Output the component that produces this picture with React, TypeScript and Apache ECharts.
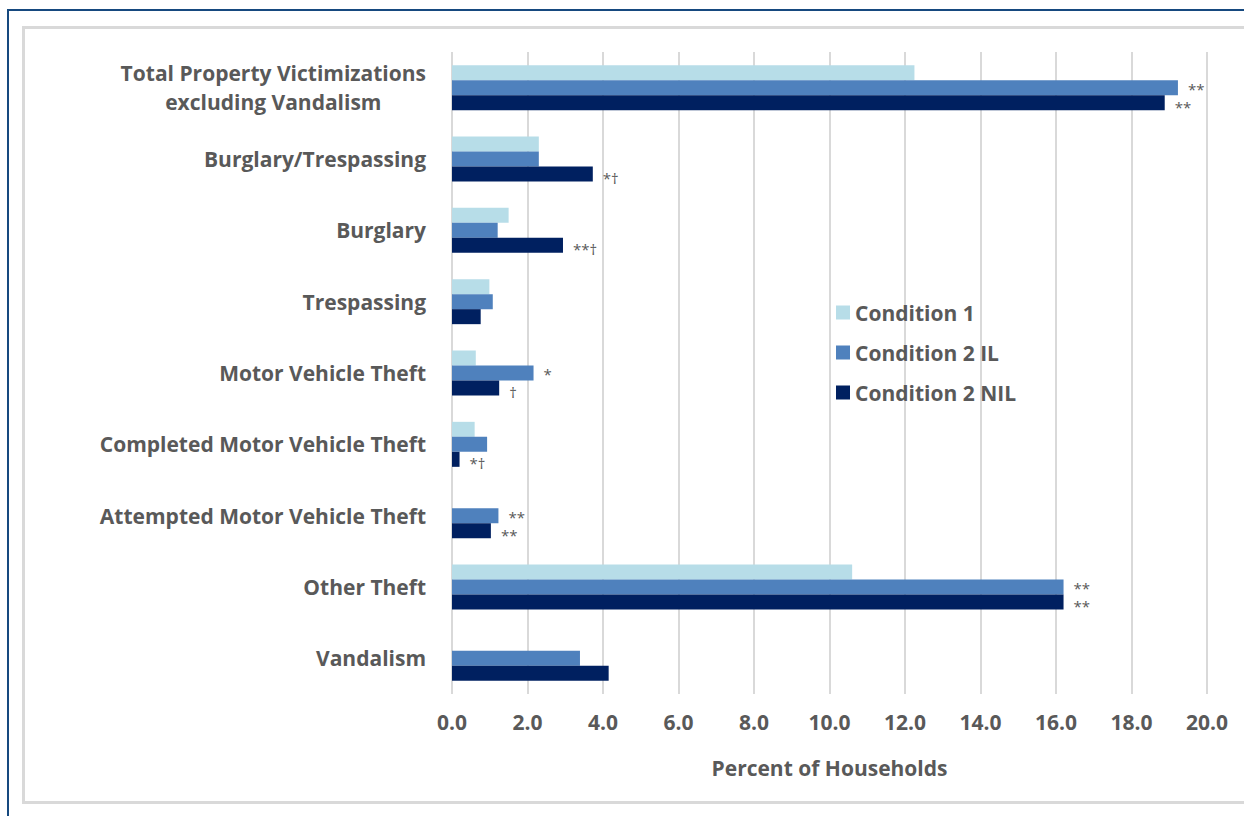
import React, { useEffect, useRef } from "react";
import * as echarts from "echarts";

const categories = [
  "Total Property Victimizations\nexcluding Vandalism",
  "Burglary/Trespassing",
  "Burglary",
  "Trespassing",
  "Motor Vehicle Theft",
  "Completed Motor Vehicle Theft",
  "Attempted Motor Vehicle Theft",
  "Other Theft",
  "Vandalism",
];

const seriesNames = ["Condition 1", "Condition 2 IL", "Condition 2 NIL"];

const condition1 = [12.25, 2.3, 1.5, 0.99, 0.63, 0.6, null, 10.6, null];
const condition2IL = [19.23, 2.3, 1.21, 1.08, 2.16, 0.93, 1.23, 16.2, 3.39];
const condition2NIL = [18.88, 3.73, 2.94, 0.76, 1.25, 0.2, 1.03, 16.2, 4.15];

const notes1 = ["", "", "", "", "", "", "", "", ""];
const notes2IL = ["**", "", "", "", "*", "", "**", "**", ""];
const notes2NIL = ["**", "*†", "**†", "", "†", "*†", "**", "**", ""];

const xTicks = { min: 0, max: 20, interval: 2 };

const colors = ["#b7dde8", "#4f81bd", "#002060"];
const labelOffsets = [
  [0, 0],
  [0, 1],
  [0, 4],
];
const textColor = "#595959";
const font = "'Open Sans', sans-serif";

export default function App() {
  const ref = useRef<HTMLDivElement>(null);

  useEffect(() => {
    if (!ref.current) return;
    const chart = echarts.init(ref.current, undefined, { renderer: "svg" });
    const datasets = [condition1, condition2IL, condition2NIL];
    const notes = [notes1, notes2IL, notes2NIL];

    chart.setOption({
      animation: false,
      backgroundColor: "#ffffff",
      textStyle: { fontFamily: font },
      graphic: [
        {
          type: "rect",
          shape: { x: 8, y: 10, width: 3000, height: 3000 },
          style: { fill: "none", stroke: "#16497f", lineWidth: 2 },
          silent: true,
        },
        {
          type: "rect",
          shape: { x: 23.5, y: 27.5, width: 3000, height: 775 },
          style: { fill: "none", stroke: "#d9d9d9", lineWidth: 3 },
          silent: true,
        },
      ],
      legend: {
        orient: "vertical",
        left: 831,
        top: 297,
        itemWidth: 14,
        itemHeight: 14,
        itemGap: 19,
        icon: "rect",
        textStyle: {
          color: textColor,
          fontSize: 21,
          fontWeight: 700,
          fontFamily: font,
        },
        data: seriesNames,
      },
      grid: {
        left: 452,
        right: 37,
        top: 52,
        bottom: 122,
        containLabel: false,
        outerBoundsMode: "none",
      },
      xAxis: {
        type: "value",
        min: xTicks.min,
        max: xTicks.max,
        interval: xTicks.interval,
        axisLine: { show: false },
        axisTick: { show: false },
        splitLine: { show: true, lineStyle: { color: "#d9d9d9", width: 2 } },
        axisLabel: {
          color: textColor,
          fontSize: 21,
          fontWeight: 700,
          fontFamily: font,
          margin: 17,
          formatter: (v: number) => v.toFixed(1),
        },
        name: "Percent of Households",
        nameLocation: "middle",
        nameGap: 63,
        nameTextStyle: {
          color: textColor,
          fontSize: 21,
          fontWeight: 700,
          fontFamily: font,
        },
      },
      yAxis: {
        type: "category",
        inverse: true,
        data: categories,
        axisLine: { show: false },
        axisTick: { show: false },
        splitLine: { show: false },
        axisLabel: {
          margin: 26,
          align: "right",
          formatter: (v: string) =>
            v
              .split("\n")
              .map((l) => `{c|${l}}`)
              .join("\n"),
          rich: {
            c: {
              align: "center",
              color: textColor,
              fontSize: 21,
              fontWeight: 700,
              fontFamily: font,
              lineHeight: 29,
            },
          },
        },
      },
      series: datasets.map((d, i) => ({
        name: seriesNames[i],
        type: "bar",
        data: d,
        barWidth: 15,
        barGap: "0%",
        itemStyle: { color: colors[i] },
        label: {
          show: true,
          position: "right",
          distance: 10,
          offset: labelOffsets[i],
          color: textColor,
          fontSize: 15,
          lineHeight: 14,
          fontFamily: font,
          formatter: (p: any) => notes[i][p.dataIndex] || "",
        },
      })),
    });

    return () => chart.dispose();
  }, []);

  return (
    <div
      ref={ref}
      style={{ position: "fixed", left: 0, top: 0, width: 1244, height: 816 }}
    />
  );
}
